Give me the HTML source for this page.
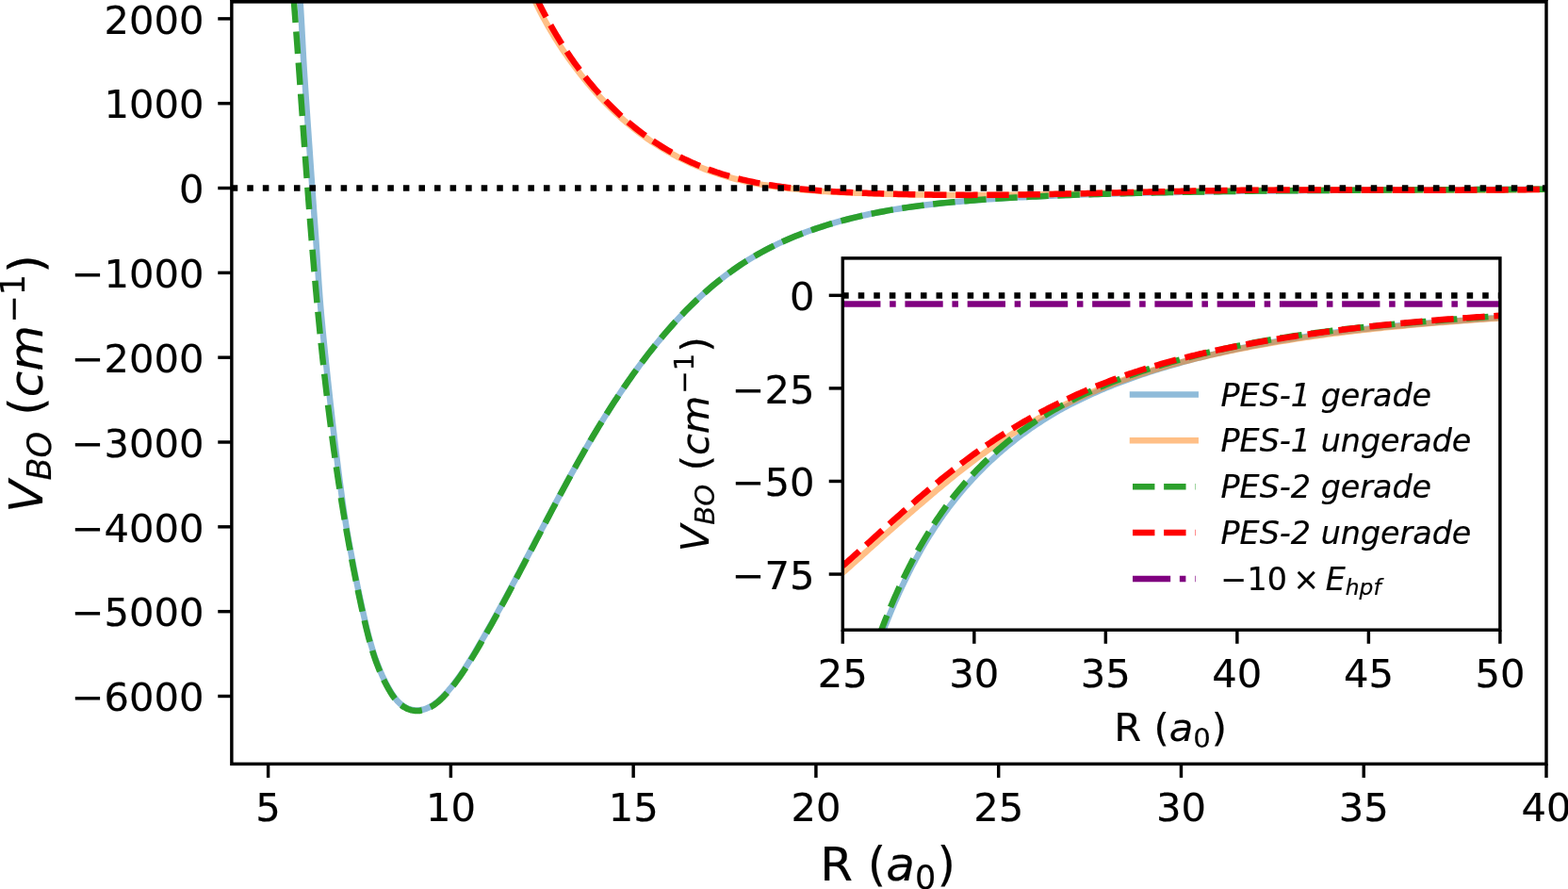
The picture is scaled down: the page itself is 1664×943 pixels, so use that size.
<!DOCTYPE html>
<html lang="en"><head><meta charset="utf-8"><title>Potential energy curves</title>
<style>html,body{margin:0;padding:0;background:#fff;}svg{display:block;}</style></head>
<body>
<svg width="1664" height="943" viewBox="0 0 1664 943" font-family="'DejaVu Sans','Liberation Sans',sans-serif" fill="#000" stroke="#000" stroke-width="0.2">
<defs>
<clipPath id="cm"><rect x="245.85" y="1.9" width="1395.15" height="808.45"/></clipPath>
<clipPath id="ci"><rect x="894.3" y="273.9" width="697.6000000000001" height="394.30000000000007"/></clipPath>
</defs>
<rect width="1664" height="943" fill="#fff" stroke="none"/>
<g clip-path="url(#cm)" fill="none" stroke-linejoin="round">
<path d="M317.78,-10.44 L318.09,-6.06 L318.39,-1.67 L318.69,2.71 L318.98,7.09 L319.26,11.48 L319.52,15.86 L319.78,20.25 L320.02,24.63 L320.27,29.02 L320.50,33.41 L320.73,37.79 L320.97,42.18 L321.20,46.57 L321.43,50.96 L321.67,55.35 L321.91,59.74 L322.16,64.13 L322.41,68.52 L322.68,72.91 L322.95,77.31 L323.24,81.70 L323.54,86.09 L323.83,90.48 L324.13,94.88 L324.42,99.27 L324.72,103.67 L325.02,108.06 L325.32,112.45 L325.62,116.85 L325.93,121.24 L326.23,125.64 L326.53,130.04 L326.84,134.43 L327.14,138.83 L327.45,143.22 L327.75,147.62 L328.05,152.02 L328.36,156.41 L328.66,160.81 L328.97,165.21 L329.27,169.60 L329.58,174.00 L329.88,178.40 L330.19,182.79 L330.50,187.19 L330.81,191.59 L331.12,195.98 L331.43,200.38 L331.74,204.78 L332.06,209.17 L332.37,213.57 L332.69,217.97 L333.00,222.36 L333.32,226.76 L333.64,231.15 L333.96,235.55 L334.28,239.95 L334.60,244.34 L334.92,248.74 L335.24,253.13 L335.55,257.53 L335.85,261.92 L336.14,266.31 L336.42,270.71 L336.71,275.10 L336.99,279.50 L337.26,283.89 L337.55,288.28 L337.83,292.67 L338.12,297.06 L338.41,301.46 L338.72,305.85 L339.03,310.24 L339.35,314.63 L339.69,319.02 L340.05,323.40 L340.42,327.79 L340.81,332.18 L341.20,336.57 L341.61,340.95 L342.02,345.34 L342.44,349.73 L342.86,354.11 L343.29,358.50 L343.72,362.88 L344.17,367.26 L344.61,371.64 L345.06,376.03 L345.52,380.41 L345.98,384.79 L346.44,389.17 L346.91,393.55 L347.38,397.92 L347.85,402.30 L348.32,406.68 L348.80,411.05 L349.28,415.43 L349.75,419.80 L350.23,424.17 L350.72,428.55 L351.20,432.92 L351.69,437.29 L352.18,441.66 L352.67,446.03 L353.17,450.39 L353.68,454.76 L354.19,459.13 L354.70,463.49 L355.22,467.85 L355.75,472.22 L356.29,476.58 L356.83,480.94 L357.38,485.30 L357.93,489.65 L358.50,494.01 L359.05,498.37 L359.61,502.72 L360.17,507.07 L360.74,511.43 L361.31,515.78 L361.88,520.13 L362.46,524.48 L363.05,528.82 L363.66,533.17 L364.27,537.51 L364.90,541.86 L365.55,546.20 L366.21,550.54 L366.90,554.88 L367.60,559.22 L368.33,563.55 L369.08,567.89 L369.85,572.22 L370.64,576.56 L371.43,580.89 L372.23,585.22 L373.04,589.54 L373.87,593.87 L374.70,598.20 L375.54,602.52 L376.39,606.84 L377.25,611.16 L378.11,615.48 L378.99,619.80 L379.88,624.11 L380.78,628.43 L381.69,632.74 L382.61,637.05 L383.53,641.36 L384.47,645.67 L385.42,649.97 L386.38,654.27 L387.36,658.57 L388.36,662.87 L389.38,667.15 L390.44,671.43 L391.54,675.70 L392.68,679.95 L393.87,684.18 L395.12,688.40 L396.43,692.60 L397.81,696.78 L399.23,700.76 L400.75,704.88 L402.36,708.97 L404.05,713.03 L405.84,717.06 L407.73,721.05 L409.73,725.01 L411.84,728.93 L414.06,732.81 L416.42,736.61 L418.98,740.23 L421.77,743.59 L424.86,746.60 L428.30,749.18 L432.06,751.24 L436.04,752.70 L440.15,753.48 L444.32,753.52 L448.47,752.83 L452.55,751.53 L456.46,749.71 L460.17,747.45 L463.68,744.84 L467.02,741.93 L470.21,738.81 L473.27,735.54 L476.22,732.18 L479.07,728.77 L481.83,725.30 L484.50,721.78 L487.10,718.21 L489.63,714.61 L492.09,710.96 L494.49,707.28 L496.85,703.57 L499.17,699.83 L501.45,696.08 L503.71,692.30 L505.95,688.52 L508.17,684.72 L510.38,680.92 L512.58,677.12 L514.77,673.30 L516.94,669.48 L519.10,665.65 L521.26,661.81 L523.41,657.98 L525.55,654.14 L527.69,650.29 L529.81,646.43 L531.92,642.57 L534.03,638.71 L536.13,634.84 L538.22,630.97 L540.30,627.09 L542.38,623.21 L544.46,619.33 L546.52,615.44 L548.59,611.55 L550.65,607.66 L552.70,603.77 L554.76,599.87 L556.80,595.97 L558.85,592.07 L560.90,588.17 L562.94,584.27 L564.99,580.37 L567.03,576.47 L569.07,572.57 L571.12,568.66 L573.16,564.76 L575.21,560.86 L577.26,556.96 L579.31,553.07 L581.36,549.17 L583.42,545.28 L585.48,541.39 L587.55,537.50 L589.62,533.61 L591.69,529.73 L593.78,525.85 L595.87,521.97 L597.96,518.10 L600.06,514.24 L602.17,510.37 L604.29,506.52 L606.42,502.66 L608.56,498.82 L610.70,494.98 L612.86,491.14 L615.03,487.31 L617.21,483.49 L619.40,479.67 L621.59,475.86 L623.80,472.05 L626.01,468.26 L628.25,464.47 L630.49,460.68 L632.75,456.91 L635.03,453.14 L637.32,449.39 L639.62,445.64 L641.95,441.90 L644.29,438.18 L646.64,434.46 L649.02,430.75 L651.41,427.06 L653.82,423.37 L656.26,419.70 L658.71,416.03 L661.18,412.38 L663.67,408.75 L666.18,405.12 L668.72,401.51 L671.27,397.91 L673.85,394.32 L676.46,390.75 L679.08,387.19 L681.73,383.64 L684.41,380.11 L687.11,376.60 L689.83,373.10 L692.58,369.62 L695.35,366.17 L698.15,362.73 L700.98,359.31 L703.83,355.92 L706.71,352.55 L709.62,349.21 L712.55,345.90 L715.52,342.61 L718.51,339.35 L721.52,336.11 L724.57,332.91 L727.65,329.75 L730.75,326.61 L733.89,323.51 L737.05,320.44 L740.24,317.41 L743.47,314.41 L746.72,311.46 L750.01,308.54 L753.33,305.67 L756.68,302.83 L760.06,300.04 L763.47,297.29 L766.92,294.59 L770.40,291.93 L773.91,289.32 L777.45,286.76 L781.03,284.25 L784.64,281.79 L788.29,279.37 L791.97,277.02 L795.69,274.71 L799.44,272.46 L803.23,270.26 L807.05,268.12 L810.90,266.03 L814.78,263.99 L818.70,262.00 L822.64,260.07 L826.61,258.18 L830.60,256.34 L834.63,254.55 L838.68,252.81 L842.75,251.12 L846.84,249.47 L850.96,247.87 L855.09,246.32 L859.25,244.81 L863.42,243.34 L867.61,241.92 L871.82,240.54 L876.05,239.20 L880.28,237.90 L884.53,236.64 L888.80,235.42 L893.07,234.24 L897.36,233.10 L901.65,232.00 L905.95,230.94 L910.26,229.91 L914.57,228.92 L918.89,227.96 L923.21,227.03 L927.54,226.15 L931.87,225.29 L936.20,224.46 L940.54,223.67 L944.88,222.90 L949.22,222.17 L953.56,221.46 L957.91,220.78 L962.26,220.13 L966.61,219.50 L970.97,218.90 L975.33,218.32 L979.69,217.77 L984.05,217.23 L988.42,216.72 L992.78,216.23 L997.15,215.75 L1001.53,215.30 L1005.90,214.86 L1010.28,214.44 L1014.65,214.04 L1019.03,213.65 L1023.41,213.28 L1027.80,212.91 L1032.18,212.56 L1036.57,212.23 L1040.95,211.90 L1045.34,211.58 L1049.73,211.27 L1054.12,210.97 L1058.51,210.68 L1062.91,210.40 L1067.30,210.13 L1071.70,209.87 L1076.09,209.62 L1080.49,209.37 L1084.89,209.13 L1089.29,208.90 L1093.69,208.68 L1098.09,208.46 L1102.49,208.25 L1106.89,208.05 L1111.29,207.86 L1115.70,207.67 L1120.10,207.48 L1124.51,207.31 L1128.91,207.13 L1133.32,206.97 L1137.72,206.81 L1142.13,206.65 L1146.54,206.50 L1150.94,206.36 L1155.35,206.21 L1159.76,206.08 L1164.17,205.94 L1168.57,205.81 L1172.98,205.69 L1177.39,205.56 L1181.80,205.44 L1186.21,205.32 L1190.61,205.21 L1195.02,205.10 L1199.43,204.99 L1203.84,204.88 L1208.24,204.77 L1212.65,204.67 L1217.06,204.57 L1221.46,204.47 L1225.87,204.37 L1230.28,204.28 L1234.68,204.19 L1239.09,204.10 L1243.50,204.01 L1247.90,203.92 L1252.31,203.84 L1256.71,203.75 L1261.12,203.67 L1265.53,203.60 L1269.93,203.52 L1274.34,203.44 L1278.74,203.37 L1283.15,203.30 L1287.55,203.23 L1291.96,203.16 L1296.37,203.10 L1300.77,203.03 L1305.18,202.97 L1309.58,202.91 L1313.99,202.85 L1318.39,202.79 L1322.80,202.74 L1327.20,202.68 L1331.61,202.63 L1336.01,202.58 L1340.42,202.53 L1344.82,202.48 L1349.23,202.43 L1353.63,202.38 L1358.03,202.34 L1362.44,202.29 L1366.84,202.25 L1371.25,202.21 L1375.65,202.17 L1380.06,202.13 L1384.46,202.09 L1388.87,202.05 L1393.27,202.02 L1397.67,201.98 L1402.08,201.95 L1406.48,201.92 L1410.89,201.88 L1415.29,201.85 L1419.70,201.82 L1424.10,201.79 L1428.51,201.76 L1432.91,201.74 L1437.31,201.71 L1441.72,201.68 L1446.12,201.66 L1450.53,201.63 L1454.93,201.61 L1459.34,201.58 L1463.74,201.56 L1468.15,201.54 L1472.55,201.52 L1476.95,201.50 L1481.36,201.47 L1485.76,201.45 L1490.17,201.43 L1494.57,201.41 L1498.98,201.39 L1503.38,201.37 L1507.79,201.35 L1512.19,201.34 L1516.60,201.32 L1521.00,201.30 L1525.41,201.28 L1529.81,201.26 L1534.22,201.24 L1538.62,201.23 L1543.03,201.21 L1547.44,201.19 L1551.84,201.17 L1556.25,201.16 L1560.65,201.14 L1565.06,201.12 L1569.46,201.10 L1573.87,201.08 L1578.28,201.06 L1582.68,201.04 L1587.09,201.03 L1591.49,201.01 L1595.90,200.99 L1600.31,200.97 L1604.71,200.95 L1609.12,200.92 L1613.53,200.90 L1617.93,200.88 L1622.34,200.86 L1626.75,200.84 L1631.16,200.81 L1635.56,200.79 L1639.97,200.77 L1644.38,200.74 L1648.79,200.71 L1653.19,200.69 L1657.60,200.66 L1662.01,200.63 L1666.42,200.60 L1670.83,200.57 L1675.24,200.54" stroke="#1f77b4" stroke-opacity="0.5" stroke-width="6.5"/>
<path d="M565.40,-3.78 L566.56,-1.30 L567.74,1.17 L568.93,3.64 L570.15,6.10 L571.38,8.57 L572.62,11.03 L573.88,13.48 L575.16,15.93 L576.46,18.37 L577.78,20.80 L579.11,23.22 L580.45,25.64 L581.82,28.04 L583.20,30.44 L584.60,32.83 L586.01,35.21 L587.44,37.58 L588.89,39.94 L590.36,42.29 L591.84,44.63 L593.34,46.96 L594.86,49.29 L596.39,51.60 L597.94,53.91 L599.50,56.21 L601.09,58.50 L602.69,60.78 L604.30,63.05 L605.94,65.32 L607.59,67.58 L609.26,69.83 L610.94,72.07 L612.64,74.31 L614.36,76.54 L616.09,78.77 L617.85,80.99 L619.61,83.19 L621.40,85.39 L623.20,87.57 L625.02,89.74 L626.85,91.90 L628.71,94.04 L630.58,96.17 L632.46,98.28 L634.36,100.38 L636.28,102.47 L638.22,104.54 L640.17,106.59 L642.14,108.63 L644.13,110.65 L646.13,112.66 L648.15,114.65 L650.19,116.62 L652.24,118.58 L654.31,120.52 L656.40,122.45 L658.50,124.35 L660.62,126.24 L662.76,128.11 L664.92,129.96 L667.09,131.79 L669.27,133.60 L671.48,135.38 L673.70,137.15 L675.94,138.89 L678.19,140.61 L680.46,142.31 L682.75,143.98 L685.06,145.63 L687.38,147.26 L689.72,148.87 L692.07,150.45 L694.44,152.01 L696.82,153.54 L699.22,155.05 L701.64,156.54 L704.07,158.01 L706.51,159.45 L708.97,160.87 L711.44,162.26 L713.93,163.63 L716.43,164.97 L718.94,166.29 L721.47,167.59 L724.00,168.86 L726.55,170.10 L729.12,171.32 L731.69,172.51 L734.27,173.68 L736.87,174.82 L739.48,175.94 L742.10,177.03 L744.72,178.10 L747.36,179.13 L750.01,180.15 L752.67,181.13 L755.34,182.09 L758.01,183.02 L760.70,183.93 L763.39,184.80 L766.09,185.66 L768.80,186.48 L771.52,187.28 L774.25,188.06 L776.98,188.81 L779.72,189.54 L782.47,190.25 L785.22,190.93 L787.98,191.59 L790.75,192.22 L793.53,192.84 L796.31,193.43 L799.09,194.00 L801.89,194.55 L804.69,195.08 L807.49,195.60 L810.30,196.09 L813.11,196.56 L815.93,197.02 L818.75,197.45 L821.58,197.87 L824.42,198.27 L827.25,198.65 L830.09,199.02 L832.94,199.37 L835.78,199.70 L838.64,200.02 L841.49,200.32 L844.35,200.61 L847.21,200.89 L850.07,201.15 L852.94,201.40 L855.80,201.64 L858.67,201.88 L861.55,202.10 L864.42,202.31 L867.29,202.52 L870.17,202.71 L873.05,202.90 L875.93,203.09 L878.81,203.27 L881.69,203.44 L884.57,203.59 L887.45,203.74 L890.33,203.88 L893.21,204.02 L896.09,204.15 L898.96,204.28 L901.84,204.40 L904.72,204.52 L907.60,204.64 L910.48,204.75 L913.36,204.86 L916.23,204.96 L919.11,205.07 L921.99,205.16 L924.86,205.26 L927.74,205.35 L930.61,205.44 L933.49,205.52 L936.36,205.60 L939.24,205.68 L942.11,205.75 L944.99,205.83 L947.86,205.89 L950.73,205.96 L953.61,206.04 L956.48,206.12 L959.35,206.19 L962.22,206.26 L965.10,206.32 L967.97,206.39 L970.84,206.45 L973.71,206.50 L976.58,206.55 L979.45,206.60 L982.32,206.65 L985.19,206.69 L988.06,206.73 L990.93,206.76 L993.80,206.80 L996.67,206.83 L999.54,206.86 L1002.41,206.88 L1005.28,206.90 L1008.15,206.92 L1011.01,206.94 L1013.88,206.95 L1016.75,206.96 L1019.62,206.97 L1022.48,206.98 L1025.35,206.98 L1028.22,206.98 L1031.08,206.98 L1033.95,206.97 L1036.82,206.97 L1039.68,206.96 L1042.55,206.95 L1045.41,206.94 L1048.28,206.92 L1051.15,206.90 L1054.01,206.89 L1056.88,206.86 L1059.74,206.84 L1062.61,206.81 L1065.47,206.79 L1068.33,206.76 L1071.20,206.73 L1074.06,206.69 L1076.93,206.66 L1079.79,206.62 L1082.65,206.58 L1085.52,206.54 L1088.38,206.50 L1091.25,206.46 L1094.11,206.41 L1096.97,206.37 L1099.83,206.32 L1102.70,206.27 L1105.56,206.22 L1108.42,206.17 L1111.29,206.11 L1114.15,206.06 L1117.01,206.00 L1119.87,205.94 L1122.74,205.89 L1125.60,205.83 L1128.46,205.77 L1131.32,205.71 L1134.19,205.64 L1137.05,205.58 L1139.91,205.52 L1142.77,205.45 L1145.63,205.39 L1148.50,205.32 L1151.36,205.25 L1154.22,205.19 L1157.08,205.13 L1159.94,205.07 L1162.81,205.00 L1165.67,204.94 L1168.53,204.87 L1171.39,204.81 L1174.25,204.74 L1177.11,204.68 L1179.98,204.61 L1182.84,204.55 L1185.70,204.48 L1188.56,204.41 L1191.42,204.35 L1194.28,204.28 L1197.15,204.21 L1200.01,204.15 L1202.87,204.08 L1205.73,204.01 L1208.59,203.95 L1211.46,203.88 L1214.32,203.81 L1217.18,203.75 L1220.04,203.68 L1222.90,203.62 L1225.77,203.55 L1228.63,203.49 L1231.49,203.43 L1234.35,203.36 L1237.22,203.30 L1240.08,203.24 L1242.94,203.18 L1245.81,203.12 L1248.67,203.06 L1251.53,203.00 L1254.39,202.94 L1257.26,202.88 L1260.12,202.83 L1262.98,202.77 L1265.85,202.72 L1268.71,202.66 L1271.57,202.61 L1274.44,202.56 L1277.30,202.51 L1280.17,202.46 L1283.03,202.42 L1285.90,202.37 L1288.76,202.32 L1291.62,202.28 L1294.49,202.24 L1297.35,202.20 L1300.22,202.16 L1303.08,202.12 L1305.95,202.09 L1308.82,202.05 L1311.68,202.02 L1314.55,201.99 L1317.41,201.96 L1320.28,201.94 L1323.15,201.91 L1326.01,201.89 L1328.88,201.86 L1331.75,201.84 L1334.61,201.82 L1337.48,201.80 L1340.35,201.78 L1343.22,201.77 L1346.08,201.75 L1348.95,201.74 L1351.82,201.73 L1354.69,201.71 L1357.55,201.69 L1360.42,201.68 L1363.29,201.67 L1366.16,201.65 L1369.03,201.64 L1371.90,201.63 L1374.76,201.62 L1377.63,201.61 L1380.50,201.61 L1383.37,201.60 L1386.24,201.60 L1389.11,201.59 L1391.98,201.59 L1394.85,201.58 L1397.72,201.58 L1400.59,201.58 L1403.45,201.58 L1406.32,201.58 L1409.19,201.58 L1412.06,201.58 L1414.93,201.58 L1417.80,201.58 L1420.67,201.59 L1423.54,201.59 L1426.41,201.59 L1429.28,201.60 L1432.15,201.60 L1435.02,201.61 L1437.89,201.61 L1440.76,201.62 L1443.63,201.62 L1446.50,201.63 L1449.37,201.63 L1452.24,201.64 L1455.11,201.65 L1457.98,201.65 L1460.85,201.66 L1463.72,201.66 L1466.59,201.67 L1469.46,201.68 L1472.33,201.68 L1475.19,201.69 L1478.06,201.70 L1480.93,201.70 L1483.80,201.71 L1486.67,201.71 L1489.54,201.72 L1492.41,201.72 L1495.28,201.73 L1498.15,201.73 L1501.02,201.74 L1503.89,201.74 L1506.76,201.75 L1509.63,201.75 L1512.49,201.75 L1515.36,201.75 L1518.23,201.76 L1521.10,201.76 L1523.97,201.76 L1526.84,201.76 L1529.70,201.76 L1532.57,201.75 L1535.44,201.75 L1538.31,201.75 L1541.18,201.74 L1544.04,201.74 L1546.91,201.73 L1549.78,201.73 L1552.65,201.72 L1555.51,201.71 L1558.38,201.70 L1561.25,201.69 L1564.11,201.68 L1566.98,201.67 L1569.85,201.66 L1572.71,201.64 L1575.58,201.63 L1578.45,201.61 L1581.31,201.59 L1584.18,201.57 L1587.04,201.55 L1589.91,201.53 L1592.77,201.51 L1595.64,201.48 L1598.50,201.46 L1601.37,201.43 L1604.23,201.40 L1607.10,201.37 L1609.96,201.34 L1612.82,201.31 L1615.69,201.27 L1618.55,201.24 L1621.41,201.20 L1624.28,201.16 L1627.14,201.12 L1630.00,201.08 L1632.87,201.03 L1635.73,200.98 L1638.59,200.94 L1641.45,200.89 L1644.31,200.83 L1647.17,200.78 L1650.03,200.72 L1652.90,200.67 L1655.76,200.61 L1658.62,200.54 L1661.48,200.48 L1664.34,200.41 L1667.19,200.35 L1670.05,200.28 L1672.91,200.20 L1675.77,200.13" stroke="#ff7f0e" stroke-opacity="0.5" stroke-width="6.5"/>
<path d="M310.95,-10.44 L311.30,-6.05 L311.64,-1.67 L311.98,2.72 L312.32,7.11 L312.66,11.50 L313.00,15.89 L313.33,20.28 L313.66,24.67 L313.99,29.06 L314.32,33.45 L314.65,37.84 L314.98,42.23 L315.30,46.63 L315.63,51.02 L315.95,55.41 L316.27,59.81 L316.59,64.20 L316.91,68.60 L317.23,72.99 L317.54,77.39 L317.86,81.79 L318.18,86.18 L318.49,90.58 L318.81,94.98 L319.12,99.38 L319.44,103.78 L319.75,108.17 L320.07,112.57 L320.38,116.97 L320.69,121.37 L321.01,125.77 L321.32,130.17 L321.64,134.57 L321.95,138.97 L322.27,143.37 L322.59,147.77 L322.90,152.17 L323.22,156.57 L323.54,160.97 L323.86,165.38 L324.18,169.78 L324.51,174.18 L324.83,178.58 L325.15,182.98 L325.48,187.38 L325.81,191.78 L326.14,196.18 L326.47,200.58 L326.80,204.98 L327.13,209.39 L327.47,213.79 L327.81,218.19 L328.15,222.59 L328.49,226.99 L328.83,231.39 L329.18,235.79 L329.53,240.19 L329.88,244.59 L330.23,248.99 L330.59,253.39 L330.95,257.78 L331.31,262.18 L331.67,266.58 L332.04,270.98 L332.41,275.38 L332.79,279.77 L333.16,284.17 L333.54,288.57 L333.93,292.96 L334.32,297.36 L334.71,301.76 L335.10,306.15 L335.50,310.55 L335.90,314.94 L336.31,319.33 L336.72,323.73 L337.13,328.12 L337.55,332.51 L337.97,336.90 L338.40,341.29 L338.83,345.68 L339.27,350.07 L339.71,354.46 L340.15,358.85 L340.60,363.24 L341.06,367.63 L341.52,372.01 L341.98,376.40 L342.45,380.78 L342.93,385.17 L343.41,389.55 L343.89,393.93 L344.38,398.32 L344.88,402.70 L345.38,407.08 L345.89,411.46 L346.40,415.84 L346.92,420.21 L347.45,424.59 L347.98,428.97 L348.52,433.34 L349.06,437.72 L349.61,442.09 L350.17,446.46 L350.73,450.83 L351.30,455.21 L351.87,459.57 L352.46,463.94 L353.05,468.31 L353.64,472.68 L354.25,477.04 L354.86,481.41 L355.47,485.77 L356.10,490.13 L356.73,494.49 L357.37,498.85 L358.02,503.21 L358.67,507.57 L359.33,511.93 L360.00,516.28 L360.68,520.63 L361.37,524.99 L362.06,529.34 L362.76,533.69 L363.47,538.04 L364.19,542.38 L364.91,546.73 L365.65,551.08 L366.39,555.42 L367.14,559.76 L367.90,564.10 L368.67,568.44 L369.45,572.78 L370.24,577.11 L371.03,581.45 L371.84,585.78 L372.65,590.12 L373.48,594.45 L374.31,598.77 L375.15,603.10 L376.00,607.43 L376.86,611.75 L377.74,616.07 L378.62,620.40 L379.51,624.72 L380.41,629.03 L381.32,633.35 L382.24,637.66 L383.17,641.98 L384.11,646.29 L385.06,650.60 L386.03,654.90 L387.01,659.21 L388.01,663.51 L389.04,667.79 L390.11,672.07 L391.21,676.34 L392.36,680.59 L393.56,684.83 L394.82,689.05 L396.14,693.25 L397.53,697.43 L398.99,701.58 L400.53,705.71 L402.16,709.81 L403.87,713.88 L405.68,717.91 L407.60,721.92 L409.62,725.88 L411.76,729.81 L414.01,733.70 L416.42,737.50 L419.03,741.12 L421.91,744.47 L425.10,747.46 L428.66,749.99 L432.53,752.00 L436.61,753.37 L440.83,754.04 L445.10,753.94 L449.32,753.13 L453.44,751.71 L457.38,749.77 L461.09,747.42 L464.61,744.72 L467.94,741.75 L471.13,738.58 L474.18,735.27 L477.13,731.89 L479.97,728.45 L482.73,724.96 L485.39,721.42 L487.98,717.84 L490.50,714.21 L492.96,710.54 L495.36,706.85 L497.72,703.12 L500.03,699.38 L502.31,695.61 L504.57,691.83 L506.81,688.04 L509.03,684.24 L511.25,680.43 L513.44,676.61 L515.63,672.79 L517.81,668.96 L519.97,665.13 L522.12,661.29 L524.26,657.44 L526.40,653.58 L528.52,649.72 L530.63,645.86 L532.74,641.99 L534.84,638.11 L536.93,634.24 L539.01,630.35 L541.09,626.47 L543.16,622.58 L545.22,618.68 L547.28,614.79 L549.34,610.89 L551.39,606.99 L553.44,603.08 L555.48,599.18 L557.53,595.27 L559.57,591.36 L561.60,587.45 L563.64,583.54 L565.68,579.63 L567.71,575.72 L569.75,571.81 L571.79,567.90 L573.83,563.99 L575.87,560.09 L577.91,556.18 L579.95,552.27 L582.00,548.37 L584.05,544.47 L586.11,540.57 L588.17,536.67 L590.23,532.78 L592.30,528.89 L594.38,525.00 L596.46,521.12 L598.55,517.24 L600.65,513.37 L602.75,509.50 L604.87,505.63 L606.99,501.77 L609.12,497.92 L611.26,494.07 L613.41,490.23 L615.58,486.39 L617.75,482.56 L619.94,478.74 L622.13,474.92 L624.34,471.11 L626.57,467.31 L628.81,463.52 L631.06,459.74 L633.32,455.96 L635.60,452.19 L637.90,448.44 L640.21,444.69 L642.54,440.95 L644.89,437.22 L647.25,433.50 L649.64,429.80 L652.04,426.10 L654.46,422.41 L656.89,418.74 L659.35,415.08 L661.83,411.43 L664.33,407.79 L666.85,404.16 L669.40,400.55 L671.96,396.95 L674.55,393.36 L677.16,389.79 L679.79,386.23 L682.45,382.68 L685.14,379.16 L687.85,375.64 L690.58,372.15 L693.34,368.67 L696.12,365.22 L698.93,361.78 L701.77,358.37 L704.63,354.98 L707.52,351.62 L710.44,348.28 L713.39,344.97 L716.36,341.68 L719.36,338.43 L722.39,335.20 L725.45,332.01 L728.53,328.84 L731.65,325.71 L734.79,322.62 L737.97,319.56 L741.18,316.54 L744.41,313.55 L747.68,310.60 L750.98,307.70 L754.31,304.83 L757.67,302.01 L761.06,299.22 L764.49,296.49 L767.95,293.79 L771.44,291.15 L774.97,288.55 L778.52,286.00 L782.12,283.50 L785.74,281.05 L789.41,278.65 L793.10,276.31 L796.83,274.02 L800.60,271.78 L804.40,269.60 L808.23,267.47 L812.10,265.39 L815.99,263.37 L819.92,261.40 L823.87,259.47 L827.86,257.60 L831.87,255.78 L835.90,254.00 L839.96,252.27 L844.04,250.59 L848.15,248.96 L852.27,247.37 L856.42,245.83 L860.59,244.33 L864.77,242.88 L868.97,241.47 L873.19,240.10 L877.42,238.77 L881.67,237.48 L885.93,236.24 L890.20,235.03 L894.48,233.87 L898.77,232.74 L903.07,231.65 L907.38,230.59 L911.69,229.57 L916.01,228.59 L920.34,227.65 L924.66,226.73 L929.00,225.85 L933.33,225.01 L937.67,224.19 L942.01,223.41 L946.35,222.65 L950.70,221.93 L955.05,221.23 L959.40,220.56 L963.76,219.91 L968.12,219.29 L972.48,218.70 L976.84,218.13 L981.21,217.58 L985.57,217.05 L989.94,216.55 L994.32,216.06 L998.69,215.59 L1003.07,215.14 L1007.45,214.71 L1011.83,214.30 L1016.21,213.90 L1020.59,213.51 L1024.98,213.14 L1029.37,212.79 L1033.76,212.44 L1038.15,212.11 L1042.54,211.78 L1046.93,211.47 L1051.33,211.16 L1055.72,210.87 L1060.12,210.58 L1064.52,210.30 L1068.91,210.04 L1073.31,209.78 L1077.72,209.52 L1082.12,209.28 L1086.52,209.05 L1090.92,208.82 L1095.33,208.60 L1099.73,208.38 L1104.14,208.18 L1108.55,207.98 L1112.95,207.78 L1117.36,207.60 L1121.77,207.42 L1126.18,207.24 L1130.59,207.07 L1135.00,206.91 L1139.41,206.75 L1143.82,206.59 L1148.23,206.44 L1152.64,206.30 L1157.05,206.16 L1161.47,206.02 L1165.88,205.89 L1170.29,205.76 L1174.70,205.64 L1179.11,205.51 L1183.53,205.40 L1187.94,205.28 L1192.35,205.16 L1196.76,205.05 L1201.17,204.94 L1205.58,204.84 L1210.00,204.73 L1214.41,204.63 L1218.82,204.53 L1223.23,204.43 L1227.64,204.33 L1232.05,204.24 L1236.46,204.15 L1240.87,204.06 L1245.28,203.97 L1249.69,203.89 L1254.10,203.80 L1258.51,203.72 L1262.92,203.64 L1267.33,203.56 L1271.74,203.49 L1276.15,203.41 L1280.56,203.34 L1284.97,203.27 L1289.38,203.20 L1293.79,203.14 L1298.20,203.07 L1302.61,203.01 L1307.02,202.94 L1311.43,202.88 L1315.84,202.83 L1320.25,202.77 L1324.66,202.71 L1329.07,202.66 L1333.48,202.61 L1337.89,202.55 L1342.30,202.50 L1346.70,202.46 L1351.11,202.41 L1355.52,202.36 L1359.93,202.32 L1364.34,202.27 L1368.75,202.23 L1373.16,202.19 L1377.57,202.15 L1381.97,202.11 L1386.38,202.07 L1390.79,202.04 L1395.20,202.00 L1399.61,201.97 L1404.02,201.93 L1408.43,201.90 L1412.84,201.87 L1417.24,201.84 L1421.65,201.81 L1426.06,201.78 L1430.47,201.75 L1434.88,201.72 L1439.29,201.70 L1443.70,201.67 L1448.10,201.65 L1452.51,201.62 L1456.92,201.60 L1461.33,201.57 L1465.74,201.55 L1470.15,201.53 L1474.56,201.51 L1478.97,201.49 L1483.38,201.46 L1487.78,201.44 L1492.19,201.42 L1496.60,201.40 L1501.01,201.38 L1505.42,201.37 L1509.83,201.35 L1514.24,201.33 L1518.65,201.31 L1523.06,201.29 L1527.47,201.27 L1531.88,201.25 L1536.29,201.24 L1540.70,201.22 L1545.11,201.20 L1549.51,201.18 L1553.92,201.16 L1558.33,201.15 L1562.74,201.13 L1567.15,201.11 L1571.56,201.09 L1575.97,201.07 L1580.39,201.05 L1584.80,201.04 L1589.21,201.02 L1593.62,201.00 L1598.03,200.98 L1602.44,200.96 L1606.85,200.94 L1611.26,200.91 L1615.67,200.89 L1620.08,200.87 L1624.49,200.85 L1628.91,200.83 L1633.32,200.80 L1637.73,200.78 L1642.14,200.75 L1646.55,200.73 L1650.96,200.70 L1655.38,200.67 L1659.79,200.65 L1664.20,200.62 L1668.61,200.59 L1673.03,200.56 L1677.44,200.53" stroke="#2ca02c" stroke-width="6.5" stroke-dasharray="23.425 9.700" stroke-dashoffset="22.12"/>
<path d="M565.40,-10.49 L566.56,-7.96 L567.74,-5.43 L568.93,-2.91 L570.15,-0.38 L571.38,2.14 L572.62,4.66 L573.88,7.18 L575.16,9.69 L576.46,12.21 L577.78,14.72 L579.11,17.22 L580.45,19.72 L581.82,22.22 L583.20,24.71 L584.60,27.20 L586.01,29.68 L587.44,32.16 L588.89,34.63 L590.36,37.09 L591.84,39.55 L593.34,42.00 L594.86,44.44 L596.39,46.87 L597.94,49.30 L599.50,51.72 L601.09,54.12 L602.69,56.52 L604.30,58.91 L605.94,61.29 L607.59,63.66 L609.26,66.01 L610.94,68.36 L612.64,70.69 L614.36,73.01 L616.09,75.32 L617.85,77.62 L619.61,79.91 L621.40,82.18 L623.20,84.44 L625.02,86.68 L626.85,88.91 L628.71,91.12 L630.58,93.32 L632.46,95.50 L634.36,97.67 L636.28,99.82 L638.22,101.96 L640.17,104.08 L642.14,106.18 L644.13,108.26 L646.13,110.33 L648.15,112.38 L650.19,114.40 L652.24,116.41 L654.31,118.40 L656.40,120.37 L658.50,122.32 L660.62,124.25 L662.76,126.16 L664.92,128.05 L667.09,129.92 L669.27,131.76 L671.48,133.59 L673.70,135.39 L675.94,137.16 L678.19,138.92 L680.46,140.65 L682.75,142.35 L685.06,144.03 L687.38,145.69 L689.72,147.32 L692.07,148.93 L694.44,150.52 L696.82,152.07 L699.22,153.61 L701.64,155.12 L704.07,156.60 L706.51,158.06 L708.97,159.49 L711.44,160.90 L713.93,162.28 L716.43,163.64 L718.94,164.97 L721.47,166.28 L724.00,167.56 L726.55,168.82 L729.12,170.05 L731.69,171.25 L734.27,172.43 L736.87,173.58 L739.48,174.71 L742.10,175.81 L744.72,176.88 L747.36,177.93 L750.01,178.95 L752.67,179.95 L755.34,180.92 L758.01,181.86 L760.70,182.78 L763.39,183.67 L766.09,184.53 L768.80,185.37 L771.52,186.18 L774.25,186.97 L776.98,187.73 L779.72,188.47 L782.47,189.18 L785.22,189.87 L787.98,190.54 L790.75,191.19 L793.53,191.82 L796.31,192.42 L799.09,193.00 L801.89,193.57 L804.69,194.11 L807.49,194.63 L810.30,195.14 L813.11,195.63 L815.93,196.09 L818.75,196.55 L821.58,196.98 L824.42,197.40 L827.25,197.80 L830.09,198.19 L832.94,198.56 L835.78,198.92 L838.64,199.26 L841.49,199.59 L844.35,199.91 L847.21,200.21 L850.07,200.51 L852.94,200.79 L855.80,201.05 L858.67,201.31 L861.55,201.56 L864.42,201.80 L867.29,202.03 L870.17,202.25 L873.05,202.46 L875.93,202.67 L878.81,202.86 L881.69,203.04 L884.57,203.21 L887.45,203.37 L890.33,203.53 L893.21,203.68 L896.09,203.83 L898.96,203.97 L901.84,204.11 L904.72,204.24 L907.60,204.37 L910.48,204.49 L913.36,204.61 L916.23,204.73 L919.11,204.84 L921.99,204.95 L924.86,205.05 L927.74,205.15 L930.61,205.25 L933.49,205.34 L936.36,205.43 L939.24,205.51 L942.11,205.59 L944.99,205.67 L947.86,205.74 L950.73,205.82 L953.61,205.90 L956.48,205.97 L959.35,206.05 L962.22,206.12 L965.10,206.19 L967.97,206.25 L970.84,206.31 L973.71,206.37 L976.58,206.42 L979.45,206.47 L982.32,206.52 L985.19,206.57 L988.06,206.61 L990.93,206.65 L993.80,206.68 L996.67,206.71 L999.54,206.74 L1002.41,206.77 L1005.28,206.79 L1008.15,206.81 L1011.01,206.83 L1013.88,206.84 L1016.75,206.86 L1019.62,206.87 L1022.48,206.87 L1025.35,206.88 L1028.22,206.88 L1031.08,206.88 L1033.95,206.87 L1036.82,206.87 L1039.68,206.86 L1042.55,206.85 L1045.41,206.84 L1048.28,206.82 L1051.15,206.80 L1054.01,206.79 L1056.88,206.76 L1059.74,206.74 L1062.61,206.71 L1065.47,206.69 L1068.33,206.66 L1071.20,206.63 L1074.06,206.59 L1076.93,206.56 L1079.79,206.52 L1082.65,206.48 L1085.52,206.44 L1088.38,206.40 L1091.25,206.36 L1094.11,206.31 L1096.97,206.27 L1099.83,206.22 L1102.70,206.17 L1105.56,206.12 L1108.42,206.07 L1111.29,206.01 L1114.15,205.96 L1117.01,205.90 L1119.87,205.84 L1122.74,205.79 L1125.60,205.73 L1128.46,205.67 L1131.32,205.61 L1134.19,205.54 L1137.05,205.48 L1139.91,205.42 L1142.77,205.35 L1145.63,205.29 L1148.50,205.22 L1151.36,205.15 L1154.22,205.09 L1157.08,205.03 L1159.94,204.97 L1162.81,204.90 L1165.67,204.84 L1168.53,204.77 L1171.39,204.71 L1174.25,204.64 L1177.11,204.58 L1179.98,204.51 L1182.84,204.45 L1185.70,204.38 L1188.56,204.31 L1191.42,204.25 L1194.28,204.18 L1197.15,204.11 L1200.01,204.05 L1202.87,203.98 L1205.73,203.91 L1208.59,203.85 L1211.46,203.78 L1214.32,203.71 L1217.18,203.65 L1220.04,203.58 L1222.90,203.52 L1225.77,203.45 L1228.63,203.39 L1231.49,203.33 L1234.35,203.26 L1237.22,203.20 L1240.08,203.14 L1242.94,203.08 L1245.81,203.02 L1248.67,202.96 L1251.53,202.90 L1254.39,202.84 L1257.26,202.78 L1260.12,202.73 L1262.98,202.67 L1265.85,202.62 L1268.71,202.56 L1271.57,202.51 L1274.44,202.46 L1277.30,202.41 L1280.17,202.36 L1283.03,202.32 L1285.90,202.27 L1288.76,202.22 L1291.62,202.18 L1294.49,202.14 L1297.35,202.10 L1300.22,202.06 L1303.08,202.02 L1305.95,201.99 L1308.82,201.95 L1311.68,201.92 L1314.55,201.89 L1317.41,201.86 L1320.28,201.84 L1323.15,201.81 L1326.01,201.79 L1328.88,201.76 L1331.75,201.74 L1334.61,201.72 L1337.48,201.70 L1340.35,201.68 L1343.22,201.67 L1346.08,201.65 L1348.95,201.64 L1351.82,201.63 L1354.69,201.61 L1357.55,201.59 L1360.42,201.58 L1363.29,201.57 L1366.16,201.55 L1369.03,201.54 L1371.90,201.53 L1374.76,201.52 L1377.63,201.51 L1380.50,201.51 L1383.37,201.50 L1386.24,201.50 L1389.11,201.49 L1391.98,201.49 L1394.85,201.48 L1397.72,201.48 L1400.59,201.48 L1403.45,201.48 L1406.32,201.48 L1409.19,201.48 L1412.06,201.48 L1414.93,201.48 L1417.80,201.48 L1420.67,201.49 L1423.54,201.49 L1426.41,201.49 L1429.28,201.50 L1432.15,201.50 L1435.02,201.51 L1437.89,201.51 L1440.76,201.52 L1443.63,201.52 L1446.50,201.53 L1449.37,201.53 L1452.24,201.54 L1455.11,201.55 L1457.98,201.55 L1460.85,201.56 L1463.72,201.56 L1466.59,201.57 L1469.46,201.58 L1472.33,201.58 L1475.19,201.59 L1478.06,201.60 L1480.93,201.60 L1483.80,201.61 L1486.67,201.61 L1489.54,201.62 L1492.41,201.62 L1495.28,201.63 L1498.15,201.63 L1501.02,201.64 L1503.89,201.64 L1506.76,201.65 L1509.63,201.65 L1512.49,201.65 L1515.36,201.65 L1518.23,201.66 L1521.10,201.66 L1523.97,201.66 L1526.84,201.66 L1529.70,201.66 L1532.57,201.65 L1535.44,201.65 L1538.31,201.65 L1541.18,201.64 L1544.04,201.64 L1546.91,201.63 L1549.78,201.63 L1552.65,201.62 L1555.51,201.61 L1558.38,201.60 L1561.25,201.59 L1564.11,201.58 L1566.98,201.57 L1569.85,201.56 L1572.71,201.54 L1575.58,201.53 L1578.45,201.51 L1581.31,201.49 L1584.18,201.47 L1587.04,201.45 L1589.91,201.43 L1592.77,201.41 L1595.64,201.38 L1598.50,201.36 L1601.37,201.33 L1604.23,201.30 L1607.10,201.27 L1609.96,201.24 L1612.82,201.21 L1615.69,201.17 L1618.55,201.14 L1621.41,201.10 L1624.28,201.06 L1627.14,201.02 L1630.00,200.98 L1632.87,200.93 L1635.73,200.88 L1638.59,200.84 L1641.45,200.79 L1644.31,200.73 L1647.17,200.68 L1650.03,200.62 L1652.90,200.57 L1655.76,200.51 L1658.62,200.44 L1661.48,200.38 L1664.34,200.31 L1667.19,200.25 L1670.05,200.18 L1672.91,200.10 L1675.77,200.03" stroke="#ff0000" stroke-width="6.5" stroke-dasharray="23.425 9.700" stroke-dashoffset="24.66"/>
<path d="M245.85,199.52 L1641.0,199.52" stroke="#000" stroke-width="6.5" stroke-dasharray="6.550 10.012" stroke-dashoffset="0.15"/>
</g>
<g>
<line x1="284.60" y1="810.35" x2="284.60" y2="824.93" stroke="#000" stroke-width="3.45" />
<text transform="translate(284.60 871.00) scale(1 1.0)" font-size="41.667" text-anchor="middle">5</text>
<line x1="478.38" y1="810.35" x2="478.38" y2="824.93" stroke="#000" stroke-width="3.45" />
<text transform="translate(478.38 871.00) scale(1 1.0)" font-size="41.667" text-anchor="middle">10</text>
<line x1="672.15" y1="810.35" x2="672.15" y2="824.93" stroke="#000" stroke-width="3.45" />
<text transform="translate(672.15 871.00) scale(1 1.0)" font-size="41.667" text-anchor="middle">15</text>
<line x1="865.92" y1="810.35" x2="865.92" y2="824.93" stroke="#000" stroke-width="3.45" />
<text transform="translate(865.92 871.00) scale(1 1.0)" font-size="41.667" text-anchor="middle">20</text>
<line x1="1059.69" y1="810.35" x2="1059.69" y2="824.93" stroke="#000" stroke-width="3.45" />
<text transform="translate(1059.69 871.00) scale(1 1.0)" font-size="41.667" text-anchor="middle">25</text>
<line x1="1253.46" y1="810.35" x2="1253.46" y2="824.93" stroke="#000" stroke-width="3.45" />
<text transform="translate(1253.46 871.00) scale(1 1.0)" font-size="41.667" text-anchor="middle">30</text>
<line x1="1447.23" y1="810.35" x2="1447.23" y2="824.93" stroke="#000" stroke-width="3.45" />
<text transform="translate(1447.23 871.00) scale(1 1.0)" font-size="41.667" text-anchor="middle">35</text>
<line x1="1641.00" y1="810.35" x2="1641.00" y2="824.93" stroke="#000" stroke-width="3.45" />
<text transform="translate(1641.00 871.00) scale(1 1.0)" font-size="41.667" text-anchor="middle">40</text>
<line x1="231.27" y1="738.49" x2="245.85" y2="738.49" stroke="#000" stroke-width="3.45" />
<text transform="translate(216.60 754.24) scale(1 1.0)" font-size="41.667" text-anchor="end">−6000</text>
<line x1="231.27" y1="648.66" x2="245.85" y2="648.66" stroke="#000" stroke-width="3.45" />
<text transform="translate(216.60 664.41) scale(1 1.0)" font-size="41.667" text-anchor="end">−5000</text>
<line x1="231.27" y1="558.83" x2="245.85" y2="558.83" stroke="#000" stroke-width="3.45" />
<text transform="translate(216.60 574.58) scale(1 1.0)" font-size="41.667" text-anchor="end">−4000</text>
<line x1="231.27" y1="469.00" x2="245.85" y2="469.00" stroke="#000" stroke-width="3.45" />
<text transform="translate(216.60 484.75) scale(1 1.0)" font-size="41.667" text-anchor="end">−3000</text>
<line x1="231.27" y1="379.18" x2="245.85" y2="379.18" stroke="#000" stroke-width="3.45" />
<text transform="translate(216.60 394.93) scale(1 1.0)" font-size="41.667" text-anchor="end">−2000</text>
<line x1="231.27" y1="289.35" x2="245.85" y2="289.35" stroke="#000" stroke-width="3.45" />
<text transform="translate(216.60 305.10) scale(1 1.0)" font-size="41.667" text-anchor="end">−1000</text>
<line x1="231.27" y1="199.52" x2="245.85" y2="199.52" stroke="#000" stroke-width="3.45" />
<text transform="translate(216.60 215.27) scale(1 1.0)" font-size="41.667" text-anchor="end">0</text>
<line x1="231.27" y1="109.69" x2="245.85" y2="109.69" stroke="#000" stroke-width="3.45" />
<text transform="translate(216.60 125.44) scale(1 1.0)" font-size="41.667" text-anchor="end">1000</text>
<line x1="231.27" y1="19.87" x2="245.85" y2="19.87" stroke="#000" stroke-width="3.45" />
<text transform="translate(216.60 35.62) scale(1 1.0)" font-size="41.667" text-anchor="end">2000</text>
</g>
<rect x="245.85" y="1.9" width="1395.15" height="808.45" fill="none" stroke="#000" stroke-width="3.45"/>
<rect x="244.12" y="0" width="1398.60" height="1" fill="#000" stroke="none"/>
<text transform="translate(870.20 938.10) scale(1 1.0)"><tspan x="0.00" y="-3.71" font-size="50.000">R</tspan><tspan x="34.74" y="-3.71" font-size="50.000"> </tspan><tspan x="50.63" y="-3.71" font-size="50.000">(</tspan><tspan x="70.14" y="-3.71" font-size="50.000" font-style="italic">a</tspan><tspan x="100.78" y="4.49" font-size="35.000">0</tspan><tspan x="124.42" y="-3.71" font-size="50.000">)</tspan></text>
<text transform="translate(46.65 543.70) rotate(-90) scale(1 1.0)"><tspan x="0.00" y="-1.17" font-size="50.000" font-style="italic">V</tspan><tspan x="34.20" y="7.03" font-size="35.000" font-style="italic">B</tspan><tspan x="58.22" y="7.03" font-size="35.000" font-style="italic">O</tspan><tspan x="87.13" y="-1.17" font-size="50.000"> </tspan><tspan x="103.02" y="-1.17" font-size="50.000">(</tspan><tspan x="122.53" y="-1.17" font-size="50.000" font-style="italic">c</tspan><tspan x="150.02" y="-1.17" font-size="50.000" font-style="italic">m</tspan><tspan x="201.05" y="-20.31" font-size="35.000">−</tspan><tspan x="230.38" y="-20.31" font-size="35.000">1</tspan><tspan x="254.01" y="-1.17" font-size="50.000">)</tspan></text>
<rect x="894.3" y="273.9" width="697.6000000000001" height="394.30000000000007" fill="#fff" stroke="none"/>
<g clip-path="url(#ci)" fill="none" stroke-linejoin="round">
<path d="M924.66,703.59 L925.61,700.87 L926.56,698.15 L927.52,695.42 L928.49,692.69 L929.47,689.96 L930.46,687.23 L931.46,684.50 L932.47,681.77 L933.48,679.04 L934.51,676.31 L935.54,673.58 L936.59,670.85 L937.64,668.12 L938.70,665.39 L939.78,662.66 L940.86,659.94 L941.96,657.21 L943.07,654.49 L944.18,651.78 L945.31,649.07 L946.45,646.36 L947.60,643.65 L948.76,640.95 L949.94,638.26 L951.12,635.57 L952.32,632.88 L953.53,630.20 L954.75,627.52 L955.98,624.85 L957.23,622.19 L958.49,619.53 L959.76,616.87 L961.05,614.22 L962.34,611.58 L963.66,608.94 L964.98,606.31 L966.32,603.69 L967.67,601.08 L969.04,598.47 L970.42,595.87 L971.81,593.28 L973.22,590.70 L974.64,588.12 L976.08,585.56 L977.53,583.00 L979.00,580.46 L980.48,577.92 L981.98,575.40 L983.49,572.88 L985.02,570.38 L986.56,567.89 L988.12,565.40 L989.70,562.93 L991.29,560.48 L992.90,558.03 L994.53,555.60 L996.17,553.17 L997.83,550.76 L999.50,548.37 L1001.19,545.98 L1002.90,543.61 L1004.63,541.25 L1006.37,538.91 L1008.14,536.58 L1009.92,534.26 L1011.71,531.96 L1013.53,529.67 L1015.36,527.39 L1017.20,525.13 L1019.07,522.89 L1020.95,520.65 L1022.84,518.44 L1024.76,516.23 L1026.69,514.05 L1028.63,511.87 L1030.60,509.72 L1032.58,507.58 L1034.57,505.45 L1036.58,503.34 L1038.61,501.24 L1040.65,499.16 L1042.71,497.10 L1044.78,495.05 L1046.87,493.02 L1048.97,491.01 L1051.09,489.01 L1053.23,487.03 L1055.38,485.06 L1057.54,483.11 L1059.72,481.18 L1061.91,479.26 L1064.12,477.36 L1066.34,475.48 L1068.58,473.61 L1070.83,471.75 L1073.10,469.91 L1075.38,468.09 L1077.67,466.29 L1079.98,464.51 L1082.30,462.74 L1084.63,460.99 L1086.98,459.27 L1089.35,457.56 L1091.72,455.87 L1094.11,454.20 L1096.51,452.54 L1098.92,450.90 L1101.35,449.28 L1103.79,447.68 L1106.23,446.09 L1108.70,444.52 L1111.17,442.97 L1113.65,441.44 L1116.15,439.93 L1118.66,438.45 L1121.17,436.98 L1123.70,435.54 L1126.24,434.12 L1128.79,432.73 L1131.35,431.36 L1133.92,430.00 L1136.50,428.66 L1139.08,427.34 L1141.68,426.04 L1144.29,424.75 L1146.90,423.47 L1149.53,422.22 L1152.16,420.98 L1154.80,419.75 L1157.45,418.54 L1160.11,417.34 L1162.77,416.16 L1165.45,415.00 L1168.13,413.85 L1170.81,412.71 L1173.51,411.59 L1176.21,410.48 L1178.92,409.38 L1181.63,408.30 L1184.35,407.24 L1187.08,406.18 L1189.81,405.14 L1192.55,404.12 L1195.30,403.10 L1198.05,402.10 L1200.80,401.11 L1203.56,400.14 L1206.33,399.17 L1209.10,398.22 L1211.87,397.28 L1214.65,396.35 L1217.43,395.43 L1220.22,394.52 L1223.00,393.63 L1225.80,392.74 L1228.59,391.87 L1231.39,391.01 L1234.20,390.16 L1237.00,389.31 L1239.81,388.48 L1242.62,387.66 L1245.43,386.85 L1248.24,386.04 L1251.06,385.25 L1253.88,384.47 L1256.69,383.70 L1259.52,382.93 L1262.34,382.18 L1265.16,381.43 L1267.99,380.69 L1270.81,379.97 L1273.64,379.25 L1276.47,378.54 L1279.30,377.84 L1282.14,377.15 L1284.97,376.46 L1287.81,375.79 L1290.64,375.12 L1293.48,374.46 L1296.32,373.81 L1299.16,373.17 L1302.01,372.54 L1304.85,371.91 L1307.70,371.29 L1310.54,370.68 L1313.39,370.08 L1316.24,369.49 L1319.09,368.90 L1321.94,368.32 L1324.80,367.74 L1327.65,367.18 L1330.51,366.62 L1333.36,366.07 L1336.22,365.52 L1339.08,364.98 L1341.94,364.45 L1344.80,363.93 L1347.67,363.41 L1350.53,362.90 L1353.40,362.39 L1356.26,361.89 L1359.13,361.39 L1362.00,360.90 L1364.87,360.41 L1367.74,359.93 L1370.61,359.45 L1373.48,358.97 L1376.36,358.51 L1379.23,358.04 L1382.11,357.59 L1384.98,357.14 L1387.86,356.69 L1390.74,356.25 L1393.62,355.82 L1396.50,355.40 L1399.38,354.98 L1402.26,354.57 L1405.14,354.17 L1408.02,353.78 L1410.91,353.39 L1413.79,353.02 L1416.68,352.65 L1419.56,352.29 L1422.45,351.93 L1425.34,351.58 L1428.23,351.24 L1431.12,350.90 L1434.01,350.56 L1436.90,350.23 L1439.79,349.91 L1442.68,349.59 L1445.57,349.27 L1448.47,348.96 L1451.36,348.65 L1454.25,348.35 L1457.15,348.05 L1460.04,347.76 L1462.94,347.46 L1465.84,347.18 L1468.73,346.89 L1471.63,346.61 L1474.53,346.33 L1477.43,346.06 L1480.32,345.79 L1483.22,345.52 L1486.12,345.25 L1489.02,344.99 L1491.92,344.73 L1494.82,344.47 L1497.72,344.21 L1500.62,343.96 L1503.53,343.71 L1506.43,343.46 L1509.33,343.22 L1512.23,342.97 L1515.14,342.73 L1518.04,342.49 L1520.94,342.26 L1523.84,342.02 L1526.75,341.79 L1529.65,341.56 L1532.56,341.33 L1535.46,341.10 L1538.36,340.87 L1541.27,340.65 L1544.17,340.42 L1547.08,340.20 L1549.98,339.98 L1552.89,339.76 L1555.79,339.54 L1558.69,339.32 L1561.60,339.10 L1564.50,338.88 L1567.41,338.67 L1570.31,338.45 L1573.22,338.23 L1576.12,338.02 L1579.03,337.81 L1581.93,337.59 L1584.83,337.38 L1587.74,337.17 L1590.64,336.96 L1593.55,336.76 L1596.45,336.55 L1599.35,336.34 L1602.26,336.14 L1605.16,335.93 L1608.06,335.72 L1610.96,335.51 L1613.87,335.30 L1616.77,335.09 L1619.67,334.88 L1622.57,334.67 L1625.47,334.45 L1628.37,334.24 L1631.27,334.02 L1634.17,333.80 L1637.07,333.58 L1639.97,333.36" stroke="#1f77b4" stroke-opacity="0.5" stroke-width="6.5"/>
<path d="M854.26,641.98 L856.43,640.18 L858.59,638.37 L860.76,636.56 L862.92,634.74 L865.08,632.92 L867.23,631.09 L869.38,629.25 L871.53,627.41 L873.68,625.57 L875.83,623.72 L877.97,621.86 L880.11,620.00 L882.25,618.14 L884.38,616.27 L886.52,614.40 L888.65,612.53 L890.78,610.65 L892.92,608.77 L895.04,606.88 L897.17,605.00 L899.30,603.11 L901.43,601.21 L903.55,599.32 L905.68,597.42 L907.80,595.52 L909.93,593.62 L912.05,591.72 L914.18,589.82 L916.30,587.91 L918.43,586.01 L920.55,584.10 L922.68,582.19 L924.80,580.29 L926.93,578.38 L929.06,576.48 L931.18,574.57 L933.31,572.66 L935.44,570.76 L937.58,568.86 L939.71,566.95 L941.84,565.05 L943.98,563.16 L946.12,561.26 L948.26,559.36 L950.40,557.47 L952.55,555.58 L954.69,553.70 L956.84,551.82 L958.99,549.94 L961.15,548.07 L963.30,546.20 L965.46,544.33 L967.63,542.47 L969.79,540.60 L971.96,538.74 L974.14,536.88 L976.31,535.02 L978.49,533.16 L980.68,531.30 L982.87,529.44 L985.06,527.58 L987.26,525.71 L989.46,523.85 L991.66,521.99 L993.87,520.13 L996.09,518.27 L998.31,516.42 L1000.53,514.57 L1002.76,512.72 L1004.99,510.88 L1007.23,509.04 L1009.48,507.21 L1011.73,505.39 L1013.99,503.57 L1016.25,501.76 L1018.52,499.96 L1020.79,498.17 L1023.07,496.39 L1025.36,494.63 L1027.65,492.87 L1029.95,491.12 L1032.26,489.38 L1034.57,487.65 L1036.89,485.93 L1039.22,484.21 L1041.56,482.50 L1043.90,480.81 L1046.25,479.12 L1048.61,477.44 L1050.97,475.77 L1053.34,474.12 L1055.72,472.48 L1058.11,470.84 L1060.50,469.22 L1062.91,467.62 L1065.31,466.02 L1067.73,464.44 L1070.15,462.88 L1072.58,461.32 L1075.02,459.79 L1077.47,458.26 L1079.92,456.75 L1082.38,455.25 L1084.84,453.76 L1087.31,452.29 L1089.79,450.83 L1092.27,449.37 L1094.77,447.94 L1097.26,446.51 L1099.77,445.09 L1102.28,443.69 L1104.79,442.30 L1107.32,440.93 L1109.85,439.56 L1112.38,438.21 L1114.92,436.87 L1117.47,435.55 L1120.02,434.23 L1122.58,432.93 L1125.15,431.65 L1127.72,430.37 L1130.29,429.11 L1132.87,427.86 L1135.46,426.63 L1138.05,425.40 L1140.65,424.19 L1143.26,422.99 L1145.87,421.81 L1148.48,420.63 L1151.10,419.47 L1153.72,418.32 L1156.35,417.18 L1158.99,416.06 L1161.63,414.95 L1164.27,413.85 L1166.92,412.76 L1169.58,411.69 L1172.23,410.62 L1174.90,409.58 L1177.57,408.54 L1180.24,407.51 L1182.92,406.50 L1185.60,405.50 L1188.28,404.51 L1190.98,403.54 L1193.67,402.57 L1196.37,401.62 L1199.07,400.68 L1201.78,399.75 L1204.49,398.84 L1207.20,397.93 L1209.92,397.04 L1212.65,396.15 L1215.37,395.28 L1218.10,394.42 L1220.83,393.57 L1223.57,392.73 L1226.31,391.90 L1229.06,391.08 L1231.80,390.27 L1234.55,389.47 L1237.31,388.68 L1240.06,387.90 L1242.82,387.14 L1245.58,386.38 L1248.35,385.63 L1251.12,384.89 L1253.89,384.16 L1256.66,383.44 L1259.44,382.73 L1262.22,382.02 L1265.00,381.33 L1267.78,380.64 L1270.57,379.96 L1273.35,379.29 L1276.14,378.63 L1278.94,377.97 L1281.73,377.33 L1284.53,376.69 L1287.33,376.06 L1290.13,375.43 L1292.93,374.81 L1295.73,374.20 L1298.54,373.60 L1301.35,373.00 L1304.15,372.41 L1306.96,371.82 L1309.78,371.24 L1312.59,370.67 L1315.40,370.11 L1318.22,369.55 L1321.03,369.00 L1323.85,368.45 L1326.67,367.91 L1329.49,367.38 L1332.31,366.85 L1335.13,366.33 L1337.95,365.81 L1340.77,365.30 L1343.60,364.80 L1346.42,364.30 L1349.24,363.81 L1352.07,363.32 L1354.89,362.84 L1357.72,362.37 L1360.54,361.90 L1363.37,361.43 L1366.20,360.97 L1369.02,360.51 L1371.85,360.06 L1374.68,359.61 L1377.51,359.16 L1380.33,358.73 L1383.16,358.29 L1385.99,357.87 L1388.82,357.44 L1391.65,357.03 L1394.48,356.61 L1397.32,356.21 L1400.15,355.81 L1402.98,355.41 L1405.81,355.03 L1408.64,354.64 L1411.48,354.27 L1414.31,353.90 L1417.15,353.53 L1419.98,353.17 L1422.82,352.81 L1425.65,352.46 L1428.49,352.11 L1431.32,351.77 L1434.16,351.43 L1437.00,351.09 L1439.83,350.76 L1442.67,350.43 L1445.51,350.11 L1448.35,349.79 L1451.19,349.47 L1454.03,349.16 L1456.87,348.85 L1459.71,348.54 L1462.55,348.24 L1465.39,347.94 L1468.23,347.64 L1471.07,347.35 L1473.91,347.06 L1476.75,346.78 L1479.60,346.50 L1482.44,346.22 L1485.28,345.94 L1488.13,345.67 L1490.97,345.40 L1493.82,345.13 L1496.66,344.86 L1499.51,344.60 L1502.35,344.34 L1505.20,344.08 L1508.04,343.83 L1510.89,343.58 L1513.74,343.33 L1516.58,343.08 L1519.43,342.84 L1522.28,342.60 L1525.13,342.36 L1527.98,342.12 L1530.82,341.89 L1533.67,341.66 L1536.52,341.43 L1539.37,341.21 L1542.22,340.98 L1545.07,340.76 L1547.92,340.55 L1550.77,340.33 L1553.63,340.12 L1556.48,339.91 L1559.33,339.70 L1562.18,339.49 L1565.03,339.29 L1567.89,339.08 L1570.74,338.88 L1573.59,338.69 L1576.45,338.49 L1579.30,338.29 L1582.16,338.10 L1585.01,337.91 L1587.87,337.72 L1590.72,337.54 L1593.58,337.36 L1596.43,337.18 L1599.29,337.00 L1602.15,336.82 L1605.00,336.64 L1607.86,336.47 L1610.72,336.30 L1613.57,336.13 L1616.43,335.96 L1619.29,335.79 L1622.15,335.63 L1625.01,335.46" stroke="#ff7f0e" stroke-opacity="0.5" stroke-width="6.5"/>
<path d="M924.66,697.34 L925.61,694.64 L926.56,691.94 L927.52,689.24 L928.49,686.54 L929.47,683.83 L930.46,681.13 L931.46,678.43 L932.47,675.72 L933.48,673.02 L934.51,670.31 L935.54,667.61 L936.59,664.91 L937.64,662.21 L938.70,659.51 L939.78,656.81 L940.86,654.12 L941.96,651.42 L943.07,648.73 L944.18,646.05 L945.31,643.36 L946.45,640.68 L947.60,638.00 L948.76,635.32 L949.94,632.65 L951.12,629.99 L952.32,627.32 L953.53,624.67 L954.75,622.01 L955.98,619.36 L957.23,616.72 L958.49,614.08 L959.76,611.45 L961.05,608.83 L962.34,606.21 L963.66,603.59 L964.98,600.99 L966.32,598.39 L967.67,595.80 L969.04,593.21 L970.42,590.64 L971.81,588.07 L973.22,585.51 L974.64,582.95 L976.08,580.41 L977.53,577.87 L979.00,575.35 L980.48,572.83 L981.98,570.32 L983.49,567.83 L985.02,565.34 L986.56,562.86 L988.12,560.39 L989.70,557.94 L991.29,555.49 L992.90,553.06 L994.53,550.64 L996.17,548.23 L997.83,545.83 L999.50,543.44 L1001.19,541.07 L1002.90,538.71 L1004.63,536.36 L1006.37,534.02 L1008.14,531.70 L1009.92,529.39 L1011.71,527.10 L1013.53,524.82 L1015.36,522.55 L1017.20,520.30 L1019.07,518.06 L1020.95,515.84 L1022.84,513.63 L1024.76,511.43 L1026.69,509.25 L1028.63,507.09 L1030.60,504.94 L1032.58,502.80 L1034.57,500.69 L1036.58,498.58 L1038.61,496.50 L1040.65,494.43 L1042.71,492.38 L1044.78,490.34 L1046.87,488.32 L1048.97,486.32 L1051.09,484.33 L1053.23,482.36 L1055.38,480.41 L1057.54,478.48 L1059.72,476.56 L1061.91,474.67 L1064.12,472.79 L1066.34,470.92 L1068.58,469.08 L1070.83,467.26 L1073.10,465.45 L1075.38,463.67 L1077.67,461.90 L1079.98,460.15 L1082.30,458.42 L1084.63,456.72 L1086.98,455.03 L1089.35,453.36 L1091.72,451.71 L1094.11,450.07 L1096.51,448.46 L1098.92,446.87 L1101.35,445.29 L1103.79,443.73 L1106.23,442.19 L1108.70,440.67 L1111.17,439.17 L1113.65,437.68 L1116.15,436.21 L1118.66,434.76 L1121.17,433.33 L1123.70,431.91 L1126.24,430.51 L1128.79,429.13 L1131.35,427.76 L1133.92,426.41 L1136.50,425.08 L1139.08,423.76 L1141.68,422.46 L1144.29,421.18 L1146.90,419.91 L1149.53,418.65 L1152.16,417.41 L1154.80,416.19 L1157.45,414.98 L1160.11,413.79 L1162.77,412.61 L1165.45,411.45 L1168.13,410.30 L1170.81,409.16 L1173.51,408.04 L1176.21,406.94 L1178.92,405.84 L1181.63,404.77 L1184.35,403.70 L1187.08,402.65 L1189.81,401.61 L1192.55,400.59 L1195.30,399.57 L1198.05,398.57 L1200.80,397.59 L1203.56,396.61 L1206.33,395.65 L1209.10,394.70 L1211.87,393.76 L1214.65,392.84 L1217.43,391.93 L1220.22,391.02 L1223.00,390.13 L1225.80,389.25 L1228.59,388.39 L1231.39,387.53 L1234.20,386.68 L1237.00,385.85 L1239.81,385.02 L1242.62,384.21 L1245.43,383.40 L1248.24,382.61 L1251.06,381.83 L1253.88,381.05 L1256.69,380.29 L1259.52,379.53 L1262.34,378.79 L1265.16,378.05 L1267.99,377.33 L1270.81,376.61 L1273.64,375.90 L1276.47,375.20 L1279.30,374.51 L1282.14,373.83 L1284.97,373.16 L1287.81,372.50 L1290.64,371.85 L1293.48,371.20 L1296.32,370.57 L1299.16,369.94 L1302.01,369.32 L1304.85,368.71 L1307.70,368.10 L1310.54,367.51 L1313.39,366.92 L1316.24,366.34 L1319.09,365.77 L1321.94,365.21 L1324.80,364.65 L1327.65,364.10 L1330.51,363.56 L1333.36,363.03 L1336.22,362.51 L1339.08,361.99 L1341.94,361.48 L1344.80,360.97 L1347.67,360.48 L1350.53,359.99 L1353.40,359.50 L1356.26,359.03 L1359.13,358.56 L1362.00,358.10 L1364.87,357.64 L1367.74,357.19 L1370.61,356.75 L1373.48,356.31 L1376.36,355.88 L1379.23,355.45 L1382.11,355.03 L1384.98,354.62 L1387.86,354.21 L1390.74,353.81 L1393.62,353.42 L1396.50,353.03 L1399.38,352.64 L1402.26,352.27 L1405.14,351.89 L1408.02,351.52 L1410.91,351.16 L1413.79,350.80 L1416.68,350.45 L1419.56,350.10 L1422.45,349.76 L1425.34,349.42 L1428.23,349.09 L1431.12,348.76 L1434.01,348.43 L1436.90,348.11 L1439.79,347.80 L1442.68,347.49 L1445.57,347.18 L1448.47,346.88 L1451.36,346.58 L1454.25,346.28 L1457.15,345.99 L1460.04,345.70 L1462.94,345.42 L1465.84,345.14 L1468.73,344.86 L1471.63,344.59 L1474.53,344.32 L1477.43,344.05 L1480.32,343.79 L1483.22,343.52 L1486.12,343.27 L1489.02,343.01 L1491.92,342.76 L1494.82,342.51 L1497.72,342.26 L1500.62,342.02 L1503.53,341.78 L1506.43,341.54 L1509.33,341.30 L1512.23,341.07 L1515.14,340.84 L1518.04,340.60 L1520.94,340.38 L1523.84,340.15 L1526.75,339.92 L1529.65,339.70 L1532.56,339.48 L1535.46,339.26 L1538.36,339.04 L1541.27,338.82 L1544.17,338.61 L1547.08,338.39 L1549.98,338.18 L1552.89,337.97 L1555.79,337.76 L1558.69,337.55 L1561.60,337.34 L1564.50,337.13 L1567.41,336.92 L1570.31,336.71 L1573.22,336.50 L1576.12,336.30 L1579.03,336.09 L1581.93,335.88 L1584.83,335.68 L1587.74,335.47 L1590.64,335.26 L1593.55,335.06 L1596.45,334.85 L1599.35,334.64 L1602.26,334.44 L1605.16,334.23 L1608.06,334.02 L1610.96,333.81 L1613.87,333.60 L1616.77,333.39 L1619.67,333.18 L1622.57,332.97 L1625.47,332.75 L1628.37,332.54 L1631.27,332.32 L1634.17,332.10 L1637.07,331.88 L1639.97,331.66" stroke="#2ca02c" stroke-width="6.5" stroke-dasharray="23.425 9.700" stroke-dashoffset="9.03"/>
<path d="M854.26,635.10 L856.43,633.28 L858.59,631.46 L860.76,629.63 L862.92,627.79 L865.08,625.95 L867.23,624.10 L869.38,622.25 L871.53,620.39 L873.68,618.53 L875.83,616.66 L877.97,614.79 L880.11,612.92 L882.25,611.03 L884.38,609.15 L886.52,607.26 L888.65,605.37 L890.78,603.48 L892.92,601.58 L895.04,599.68 L897.17,597.77 L899.30,595.87 L901.43,593.96 L903.55,592.05 L905.68,590.14 L907.80,588.22 L909.93,586.31 L912.05,584.39 L914.18,582.47 L916.30,580.55 L918.43,578.63 L920.55,576.71 L922.68,574.79 L924.80,572.87 L926.93,570.94 L929.06,569.02 L931.18,567.10 L933.31,565.18 L935.44,563.26 L937.58,561.35 L939.71,559.43 L941.84,557.51 L943.98,555.60 L946.12,553.69 L948.26,551.78 L950.40,549.87 L952.55,547.96 L954.69,546.06 L956.84,544.16 L958.99,542.26 L961.15,540.37 L963.30,538.48 L965.46,536.59 L967.63,534.71 L969.79,532.83 L971.96,530.96 L974.14,529.09 L976.31,527.22 L978.49,525.36 L980.68,523.51 L982.87,521.66 L985.06,519.81 L987.26,517.97 L989.46,516.14 L991.66,514.31 L993.87,512.49 L996.09,510.68 L998.31,508.87 L1000.53,507.07 L1002.76,505.27 L1004.99,503.48 L1007.23,501.70 L1009.48,499.93 L1011.73,498.17 L1013.99,496.41 L1016.25,494.66 L1018.52,492.92 L1020.79,491.19 L1023.07,489.47 L1025.36,487.76 L1027.65,486.06 L1029.95,484.36 L1032.26,482.68 L1034.57,481.00 L1036.89,479.34 L1039.22,477.68 L1041.56,476.04 L1043.90,474.40 L1046.25,472.78 L1048.61,471.17 L1050.97,469.57 L1053.34,467.98 L1055.72,466.40 L1058.11,464.83 L1060.50,463.28 L1062.91,461.73 L1065.31,460.20 L1067.73,458.67 L1070.15,457.16 L1072.58,455.66 L1075.02,454.17 L1077.47,452.70 L1079.92,451.23 L1082.38,449.78 L1084.84,448.33 L1087.31,446.90 L1089.79,445.48 L1092.27,444.07 L1094.77,442.67 L1097.26,441.29 L1099.77,439.91 L1102.28,438.55 L1104.79,437.20 L1107.32,435.86 L1109.85,434.53 L1112.38,433.22 L1114.92,431.91 L1117.47,430.62 L1120.02,429.34 L1122.58,428.07 L1125.15,426.81 L1127.72,425.56 L1130.29,424.33 L1132.87,423.11 L1135.46,421.89 L1138.05,420.70 L1140.65,419.51 L1143.26,418.33 L1145.87,417.17 L1148.48,416.02 L1151.10,414.88 L1153.72,413.75 L1156.35,412.64 L1158.99,411.53 L1161.63,410.44 L1164.27,409.36 L1166.92,408.30 L1169.58,407.24 L1172.23,406.20 L1174.90,405.17 L1177.57,404.15 L1180.24,403.14 L1182.92,402.15 L1185.60,401.17 L1188.28,400.20 L1190.98,399.24 L1193.67,398.29 L1196.37,397.36 L1199.07,396.44 L1201.78,395.53 L1204.49,394.63 L1207.20,393.74 L1209.92,392.86 L1212.65,392.00 L1215.37,391.14 L1218.10,390.30 L1220.83,389.47 L1223.57,388.65 L1226.31,387.83 L1229.06,387.03 L1231.80,386.24 L1234.55,385.46 L1237.31,384.69 L1240.06,383.93 L1242.82,383.18 L1245.58,382.43 L1248.35,381.70 L1251.12,380.98 L1253.89,380.27 L1256.66,379.56 L1259.44,378.86 L1262.22,378.18 L1265.00,377.50 L1267.78,376.83 L1270.57,376.17 L1273.35,375.52 L1276.14,374.87 L1278.94,374.23 L1281.73,373.61 L1284.53,372.99 L1287.33,372.37 L1290.13,371.77 L1292.93,371.17 L1295.73,370.58 L1298.54,370.00 L1301.35,369.42 L1304.15,368.85 L1306.96,368.29 L1309.78,367.73 L1312.59,367.18 L1315.40,366.64 L1318.22,366.11 L1321.03,365.58 L1323.85,365.05 L1326.67,364.53 L1329.49,364.02 L1332.31,363.52 L1335.13,363.02 L1337.95,362.52 L1340.77,362.03 L1343.60,361.55 L1346.42,361.07 L1349.24,360.59 L1352.07,360.13 L1354.89,359.66 L1357.72,359.20 L1360.54,358.75 L1363.37,358.30 L1366.20,357.85 L1369.02,357.41 L1371.85,356.98 L1374.68,356.55 L1377.51,356.12 L1380.33,355.70 L1383.16,355.28 L1385.99,354.87 L1388.82,354.47 L1391.65,354.06 L1394.48,353.66 L1397.32,353.27 L1400.15,352.88 L1402.98,352.49 L1405.81,352.11 L1408.64,351.74 L1411.48,351.36 L1414.31,351.00 L1417.15,350.63 L1419.98,350.27 L1422.82,349.91 L1425.65,349.56 L1428.49,349.21 L1431.32,348.87 L1434.16,348.53 L1437.00,348.19 L1439.83,347.86 L1442.67,347.53 L1445.51,347.21 L1448.35,346.89 L1451.19,346.57 L1454.03,346.26 L1456.87,345.95 L1459.71,345.64 L1462.55,345.34 L1465.39,345.04 L1468.23,344.74 L1471.07,344.45 L1473.91,344.16 L1476.75,343.88 L1479.60,343.60 L1482.44,343.32 L1485.28,343.04 L1488.13,342.77 L1490.97,342.50 L1493.82,342.23 L1496.66,341.97 L1499.51,341.71 L1502.35,341.46 L1505.20,341.20 L1508.04,340.95 L1510.89,340.71 L1513.74,340.46 L1516.58,340.22 L1519.43,339.98 L1522.28,339.75 L1525.13,339.51 L1527.98,339.28 L1530.82,339.05 L1533.67,338.83 L1536.52,338.61 L1539.37,338.39 L1542.22,338.17 L1545.07,337.96 L1547.92,337.74 L1550.77,337.53 L1553.63,337.33 L1556.48,337.12 L1559.33,336.92 L1562.18,336.72 L1565.03,336.52 L1567.89,336.33 L1570.74,336.13 L1573.59,335.94 L1576.45,335.75 L1579.30,335.56 L1582.16,335.38 L1585.01,335.20 L1587.87,335.02 L1590.72,334.84 L1593.58,334.66 L1596.43,334.48 L1599.29,334.31 L1602.15,334.14 L1605.00,333.97 L1607.86,333.80 L1610.72,333.64 L1613.57,333.47 L1616.43,333.31 L1619.29,333.15 L1622.15,332.99 L1625.01,332.83" stroke="#ff0000" stroke-width="6.5" stroke-dasharray="23.425 9.700" stroke-dashoffset="13.03"/>
<path d="M894.3,313.53 L1591.9,313.53" stroke="#000" stroke-width="6.5" stroke-dasharray="6.550 10.012" stroke-dashoffset="0.15"/>
<path d="M894.3,322.50 L1591.9,322.50" stroke="#800080" stroke-width="6.5" stroke-dasharray="40.300 9.700 6.550 9.700" stroke-dashoffset="0.15"/>
</g>
<g>
<line x1="894.30" y1="668.20" x2="894.30" y2="682.78" stroke="#000" stroke-width="3.45" />
<text transform="translate(894.30 729.00) scale(1 1.0)" font-size="41.667" text-anchor="middle">25</text>
<line x1="1033.82" y1="668.20" x2="1033.82" y2="682.78" stroke="#000" stroke-width="3.45" />
<text transform="translate(1033.82 729.00) scale(1 1.0)" font-size="41.667" text-anchor="middle">30</text>
<line x1="1173.34" y1="668.20" x2="1173.34" y2="682.78" stroke="#000" stroke-width="3.45" />
<text transform="translate(1173.34 729.00) scale(1 1.0)" font-size="41.667" text-anchor="middle">35</text>
<line x1="1312.86" y1="668.20" x2="1312.86" y2="682.78" stroke="#000" stroke-width="3.45" />
<text transform="translate(1312.86 729.00) scale(1 1.0)" font-size="41.667" text-anchor="middle">40</text>
<line x1="1452.38" y1="668.20" x2="1452.38" y2="682.78" stroke="#000" stroke-width="3.45" />
<text transform="translate(1452.38 729.00) scale(1 1.0)" font-size="41.667" text-anchor="middle">45</text>
<line x1="1591.90" y1="668.20" x2="1591.90" y2="682.78" stroke="#000" stroke-width="3.45" />
<text transform="translate(1591.90 729.00) scale(1 1.0)" font-size="41.667" text-anchor="middle">50</text>
<line x1="879.72" y1="313.33" x2="894.30" y2="313.33" stroke="#000" stroke-width="3.45" />
<text transform="translate(864.60 328.93) scale(1 1.0)" font-size="41.667" text-anchor="end">0</text>
<line x1="879.72" y1="411.90" x2="894.30" y2="411.90" stroke="#000" stroke-width="3.45" />
<text transform="translate(864.60 427.50) scale(1 1.0)" font-size="41.667" text-anchor="end">−25</text>
<line x1="879.72" y1="510.48" x2="894.30" y2="510.48" stroke="#000" stroke-width="3.45" />
<text transform="translate(864.60 526.08) scale(1 1.0)" font-size="41.667" text-anchor="end">−50</text>
<line x1="879.72" y1="609.06" x2="894.30" y2="609.06" stroke="#000" stroke-width="3.45" />
<text transform="translate(864.60 624.66) scale(1 1.0)" font-size="41.667" text-anchor="end">−75</text>
</g>
<rect x="894.3" y="273.9" width="697.6000000000001" height="394.30000000000007" fill="none" stroke="#000" stroke-width="3.45"/>
<text transform="translate(1182.20 787.50) scale(1 1.0)"><tspan x="0.00" y="-1.69" font-size="41.667">R</tspan><tspan x="28.95" y="-1.69" font-size="41.667"> </tspan><tspan x="42.20" y="-1.69" font-size="41.667">(</tspan><tspan x="58.45" y="-1.69" font-size="41.667" font-style="italic">a</tspan><tspan x="83.98" y="5.14" font-size="29.167">0</tspan><tspan x="103.68" y="-1.69" font-size="41.667">)</tspan></text>
<text transform="translate(751.90 585.20) rotate(-90) scale(1 1.0)"><tspan x="0.00" y="-0.27" font-size="41.667" font-style="italic">V</tspan><tspan x="28.50" y="6.57" font-size="29.167" font-style="italic">B</tspan><tspan x="48.51" y="6.57" font-size="29.167" font-style="italic">O</tspan><tspan x="72.61" y="-0.27" font-size="41.667"> </tspan><tspan x="85.85" y="-0.27" font-size="41.667">(</tspan><tspan x="102.11" y="-0.27" font-size="41.667" font-style="italic">c</tspan><tspan x="125.02" y="-0.27" font-size="41.667" font-style="italic">m</tspan><tspan x="167.54" y="-16.22" font-size="29.167">−</tspan><tspan x="191.98" y="-16.22" font-size="29.167">1</tspan><tspan x="211.68" y="-0.27" font-size="41.667">)</tspan></text>
<g fill="none">
<path d="M1202.0,418.4 L1268.7,418.4" stroke="#1f77b4" stroke-opacity="0.5" stroke-width="6.5" stroke-linecap="square"/>
<path d="M1202.0,467.2 L1268.7,467.2" stroke="#ff7f0e" stroke-opacity="0.5" stroke-width="6.5" stroke-linecap="square"/>
<path d="M1202.0,516.2 L1268.7,516.2" stroke="#2ca02c" stroke-width="6.5" stroke-dasharray="23.425 9.700"/>
<path d="M1202.0,565.1 L1268.7,565.1" stroke="#ff0000" stroke-width="6.5" stroke-dasharray="23.425 9.700"/>
<path d="M1202.0,614.0 L1268.7,614.0" stroke="#800080" stroke-width="6.5" stroke-dasharray="40.300 9.700 6.550 9.700" stroke-dashoffset="0.15"/>
</g>
<text transform="translate(1295.50 430.50) scale(1 1.0)" font-size="33.333" text-anchor="start" font-style="italic">PES-1 gerade</text>
<text transform="translate(1295.50 479.30) scale(1 1.0)" font-size="33.333" text-anchor="start" font-style="italic">PES-1 ungerade</text>
<text transform="translate(1295.50 528.30) scale(1 1.0)" font-size="33.333" text-anchor="start" font-style="italic">PES-2 gerade</text>
<text transform="translate(1295.50 577.20) scale(1 1.0)" font-size="33.333" text-anchor="start" font-style="italic">PES-2 ungerade</text>
<text transform="translate(1295.50 626.10) scale(1 1.0)"><tspan x="0.00" y="-0.26" font-size="33.333">−</tspan><tspan x="27.93" y="-0.26" font-size="33.333">1</tspan><tspan x="49.14" y="-0.26" font-size="33.333">0</tspan><tspan x="76.84" y="-0.26" font-size="33.333">×</tspan><tspan x="111.26" y="-0.26" font-size="33.333" font-style="italic">E</tspan><tspan x="132.32" y="5.21" font-size="23.333" font-style="italic">h</tspan><tspan x="147.11" y="5.21" font-size="23.333" font-style="italic">p</tspan><tspan x="161.92" y="5.21" font-size="23.333" font-style="italic">f</tspan></text>
</svg>
</body></html>
